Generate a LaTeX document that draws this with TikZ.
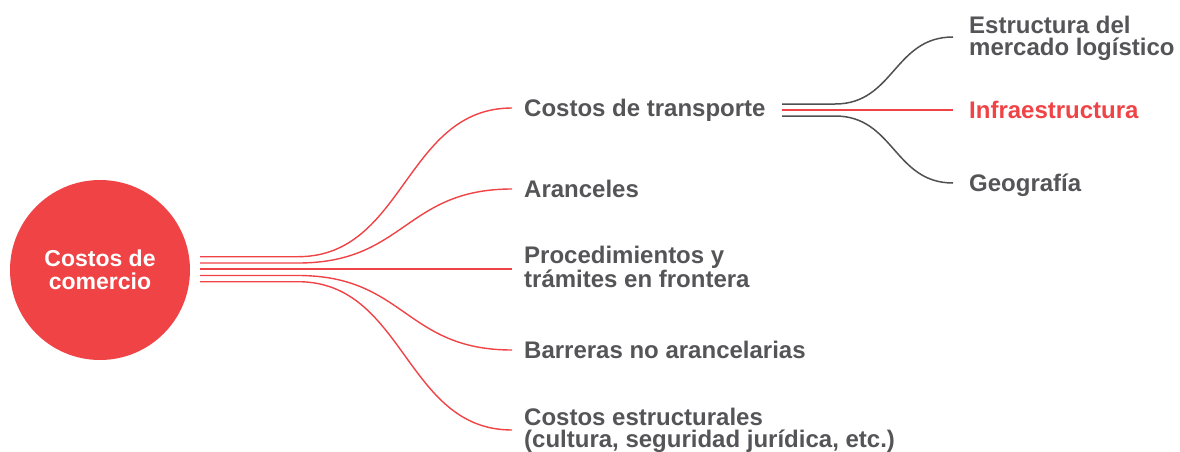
\documentclass[tikz,border=0pt]{standalone}
\usepackage{fontspec}
\setmainfont{Liberation Sans}
\definecolor{brandred}{RGB}{239,67,70}
\definecolor{txtgray}{RGB}{85,85,88}
\definecolor{linegray}{RGB}{80,80,82}
\begin{document}
\begin{tikzpicture}[x=1pt,y=-1pt,
  redline/.style={draw=brandred,line width=1.4pt},
  grayline/.style={draw=linegray,line width=1.5pt},
  lbl/.style={anchor=base west,inner sep=0pt,text=txtgray,align=left,font=\bfseries\fontsize{24}{22}\selectfont},
  hub/.style={circle,fill=brandred,minimum size=180pt,inner sep=0pt,text=white,align=center,font=\bfseries\fontsize{23}{23}\selectfont}]
\useasboundingbox (0,0) rectangle (1180,452);
% hub
\node[hub] (c) at (100,270) {Costos de\\comercio};
% first-level labels (base anchor = baseline of last line)
\node[lbl] (n1) at (524,116.6) {Costos de transporte};
\node[lbl] (n2) at (524,197.6) {Aranceles};
\node[lbl] (n3) at (524,287.5) {Procedimientos y\\trámites en frontera};
\node[lbl] (n4) at (524,358.6) {Barreras no arancelarias};
\node[lbl] (n5) at (524,447.5) {Costos estructurales\\(cultura, seguridad jurídica, etc.)};
% second-level labels
\node[lbl] (r1) at (969,56) {Estructura del\\mercado logístico};
\node[lbl,text=brandred] (r2) at (969,118.6) {Infraestructura};
\node[lbl] (r3) at (969,191.6) {Geografía};
% connector end points
\coordinate (s1) at (200,256.7);
\coordinate (s2) at (200,263);
\coordinate (s3) at (200,269);
\coordinate (s4) at (200,275.5);
\coordinate (s5) at (200,281.7);
\coordinate (e1) at (512,108);
\coordinate (e2) at (512,189);
\coordinate (e3) at (512,269);
\coordinate (e4) at (512,350);
\coordinate (e5) at (512,430);
\coordinate (t1) at (782,104);
\coordinate (t2) at (782,110);
\coordinate (t3) at (782,116);
\coordinate (f1) at (953,37);
\coordinate (f2) at (953,110);
\coordinate (f3) at (953,183);
% first-level connectors
\draw[redline] (s1) -- (298,256.7) .. controls (405,256.7) and (405,108) .. (e1);
\draw[redline] (s2) -- (298,263) .. controls (405,263) and (405,189) .. (e2);
\draw[redline] (s3) -- (e3);
\draw[redline] (s4) -- (298,275.5) .. controls (405,275.5) and (405,350) .. (e4);
\draw[redline] (s5) -- (298,281.7) .. controls (405,281.7) and (405,430) .. (e5);
% second-level connectors
\draw[grayline] (t1) -- (835,104) .. controls (894,104) and (894,37) .. (f1);
\draw[redline] (t2) -- (f2);
\draw[grayline] (t3) -- (835,116) .. controls (894,116) and (894,183) .. (f3);
\end{tikzpicture}
\end{document}
